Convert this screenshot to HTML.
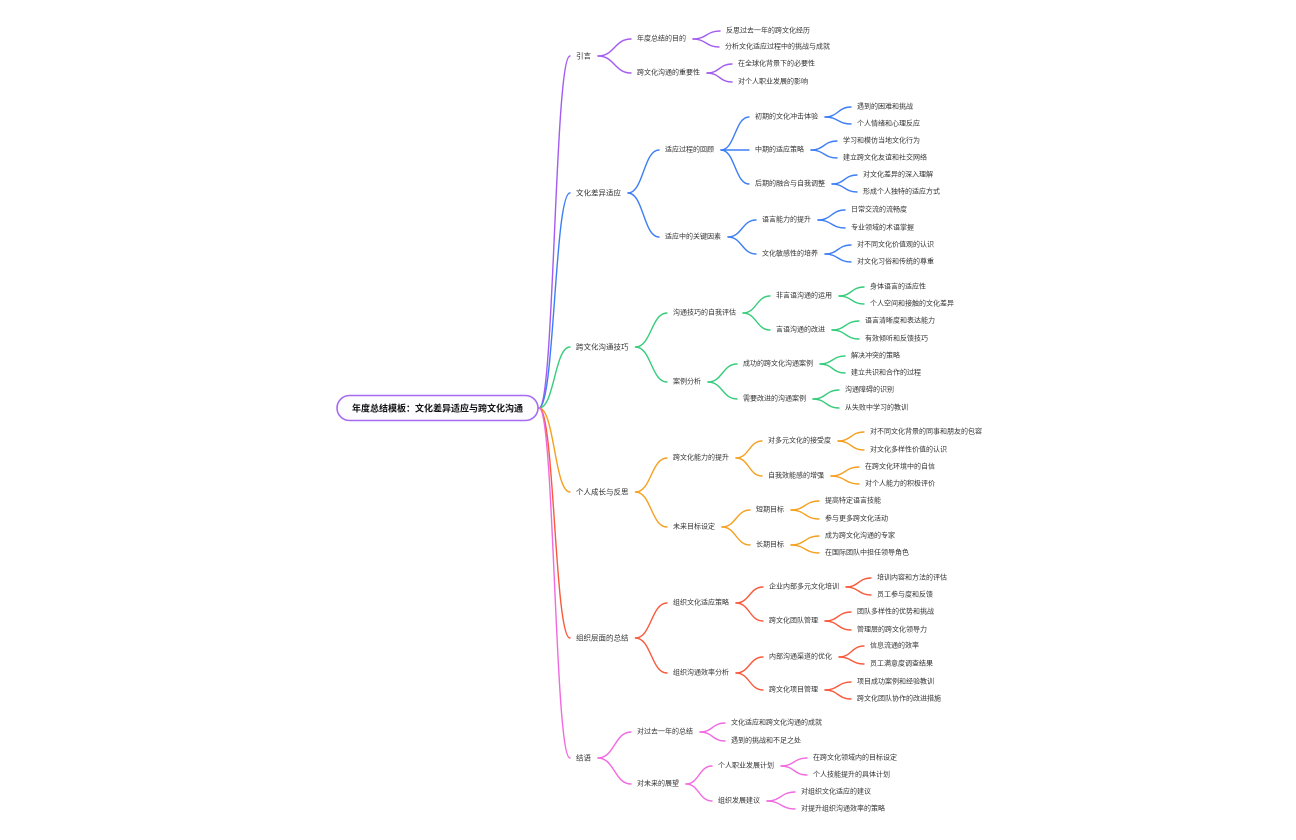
<!DOCTYPE html>
<html><head><meta charset="utf-8">
<style>
html,body{margin:0;padding:0;background:#fff;}
svg{display:block;}
text{font-family:"Liberation Sans","Noto Sans CJK SC",sans-serif;fill:#333;dominant-baseline:central;}
.l1{font-size:7.5px;}
.l2,.l3,.l4{font-size:7px;}
</style></head><body>
<svg id="s" width="1296" height="840" viewBox="0 0 1296 840" xmlns="http://www.w3.org/2000/svg">
<g id="edges" fill="none" stroke-width="1.4" stroke-linecap="round"></g>
<rect x="337" y="395.5" width="201" height="25" rx="12.5" fill="#fdfcff" stroke="#a66cf0" stroke-width="1.6"/>
<text x="437.5" y="408.5" text-anchor="middle" style="font-size:9px;font-weight:bold;fill:#111">年度总结模板：文化差异适应与跨文化沟通</text>
<g id="nodes">
<text class="l1" x="576" y="56">引言</text>
<text class="l2" x="637" y="39">年度总结的目的</text>
<text class="l4" x="726" y="31">反思过去一年的跨文化经历</text>
<text class="l4" x="725" y="47">分析文化适应过程中的挑战与成就</text>
<text class="l2" x="637" y="73">跨文化沟通的重要性</text>
<text class="l4" x="738" y="64">在全球化背景下的必要性</text>
<text class="l4" x="738" y="82">对个人职业发展的影响</text>

<text class="l1" x="576" y="193">文化差异适应</text>
<text class="l2" x="665" y="150">适应过程的回顾</text>
<text class="l3" x="755" y="117">初期的文化冲击体验</text>
<text class="l4" x="857" y="107">遇到的困难和挑战</text>
<text class="l4" x="857" y="124">个人情绪和心理反应</text>
<text class="l3" x="755" y="150">中期的适应策略</text>
<text class="l4" x="843" y="141">学习和模仿当地文化行为</text>
<text class="l4" x="843" y="158">建立跨文化友谊和社交网络</text>
<text class="l3" x="755" y="184">后期的融合与自我调整</text>
<text class="l4" x="863" y="175">对文化差异的深入理解</text>
<text class="l4" x="863" y="192">形成个人独特的适应方式</text>
<text class="l2" x="665" y="237">适应中的关键因素</text>
<text class="l3" x="762" y="220">语言能力的提升</text>
<text class="l4" x="851" y="210">日常交流的流畅度</text>
<text class="l4" x="851" y="228">专业领域的术语掌握</text>
<text class="l3" x="762" y="254">文化敏感性的培养</text>
<text class="l4" x="857" y="245">对不同文化价值观的认识</text>
<text class="l4" x="857" y="262">对文化习俗和传统的尊重</text>

<text class="l1" x="576" y="347">跨文化沟通技巧</text>
<text class="l2" x="673" y="313">沟通技巧的自我评估</text>
<text class="l3" x="776" y="296">非言语沟通的运用</text>
<text class="l4" x="870" y="287">身体语言的适应性</text>
<text class="l4" x="870" y="304">个人空间和接触的文化差异</text>
<text class="l3" x="776" y="330">言语沟通的改进</text>
<text class="l4" x="865" y="321">语言清晰度和表达能力</text>
<text class="l4" x="865" y="339">有效倾听和反馈技巧</text>
<text class="l2" x="673" y="382">案例分析</text>
<text class="l3" x="743" y="364">成功的跨文化沟通案例</text>
<text class="l4" x="851" y="356">解决冲突的策略</text>
<text class="l4" x="851" y="373">建立共识和合作的过程</text>
<text class="l3" x="743" y="399">需要改进的沟通案例</text>
<text class="l4" x="845" y="390">沟通障碍的识别</text>
<text class="l4" x="845" y="408">从失败中学习的教训</text>

<text class="l1" x="576" y="492">个人成长与反思</text>
<text class="l2" x="673" y="458">跨文化能力的提升</text>
<text class="l3" x="768" y="441">对多元文化的接受度</text>
<text class="l4" x="870" y="432">对不同文化背景的同事和朋友的包容</text>
<text class="l4" x="870" y="450">对文化多样性价值的认识</text>
<text class="l3" x="768" y="476">自我效能感的增强</text>
<text class="l4" x="865" y="467">在跨文化环境中的自信</text>
<text class="l4" x="865" y="484">对个人能力的积极评价</text>
<text class="l2" x="673" y="527">未来目标设定</text>
<text class="l3" x="756" y="510">短期目标</text>
<text class="l4" x="825" y="501">提高特定语言技能</text>
<text class="l4" x="825" y="519">参与更多跨文化活动</text>
<text class="l3" x="756" y="545">长期目标</text>
<text class="l4" x="825" y="536">成为跨文化沟通的专家</text>
<text class="l4" x="825" y="553">在国际团队中担任领导角色</text>

<text class="l1" x="576" y="638">组织层面的总结</text>
<text class="l2" x="673" y="603">组织文化适应策略</text>
<text class="l3" x="769" y="587">企业内部多元文化培训</text>
<text class="l4" x="877" y="578">培训内容和方法的评估</text>
<text class="l4" x="877" y="595">员工参与度和反馈</text>
<text class="l3" x="769" y="621">跨文化团队管理</text>
<text class="l4" x="857" y="612">团队多样性的优势和挑战</text>
<text class="l4" x="857" y="630">管理层的跨文化领导力</text>
<text class="l2" x="673" y="673">组织沟通效率分析</text>
<text class="l3" x="769" y="657">内部沟通渠道的优化</text>
<text class="l4" x="870" y="646">信息流通的效率</text>
<text class="l4" x="870" y="664">员工满意度调查结果</text>
<text class="l3" x="769" y="690">跨文化项目管理</text>
<text class="l4" x="857" y="682">项目成功案例和经验教训</text>
<text class="l4" x="857" y="699">跨文化团队协作的改进措施</text>

<text class="l1" x="576" y="758">结语</text>
<text class="l2" x="637" y="732">对过去一年的总结</text>
<text class="l4" x="731" y="723">文化适应和跨文化沟通的成就</text>
<text class="l4" x="731" y="741">遇到的挑战和不足之处</text>
<text class="l2" x="637" y="784">对未来的展望</text>
<text class="l3" x="718" y="766">个人职业发展计划</text>
<text class="l4" x="813" y="758">在跨文化领域内的目标设定</text>
<text class="l4" x="813" y="775">个人技能提升的具体计划</text>
<text class="l3" x="718" y="801">组织发展建议</text>
<text class="l4" x="801" y="792">对组织文化适应的建议</text>
<text class="l4" x="801" y="809">对提升组织沟通效率的策略</text>
</g>
</svg>
<script>
(function(){
var colors=["#a35cf0","#3d7ef5","#35cc7a","#f5a020","#f85a3c","#f16ae0"];
var nodes=document.querySelectorAll('#nodes text');
var g=document.getElementById('edges');
var stack=[{x2:539,y:408}];var ci=-1;
function lvl(n){return +n.getAttribute('class').slice(1);}
function path(x1,y1,x2,y2,c){var p=document.createElementNS('http://www.w3.org/2000/svg','path');var m=(x1+x2)/2;
p.setAttribute('d','M'+x1+' '+y1+' C'+m+' '+y1+','+m+' '+y2+','+x2+' '+y2);p.setAttribute('stroke',c);g.appendChild(p);}
for(var i=0;i<nodes.length;i++){var n=nodes[i];var L=lvl(n);if(L===1)ci++;
var x=+n.getAttribute('x'),y=+n.getAttribute('y');var w=n.getComputedTextLength();
var par=null;for(var k=stack.length-1;k>=0;k--){if(stack[k].L<L||k===0){par=stack[k];break;}}
var x1=L===1?539:par.x2;path(x1,par.y,x-6,y,colors[ci]);
var me={L:L,x2:x+w+7,y:y};
while(stack.length>1&&stack[stack.length-1].L>=L)stack.pop();stack.push(me);}
})();
</script>
</body></html>
